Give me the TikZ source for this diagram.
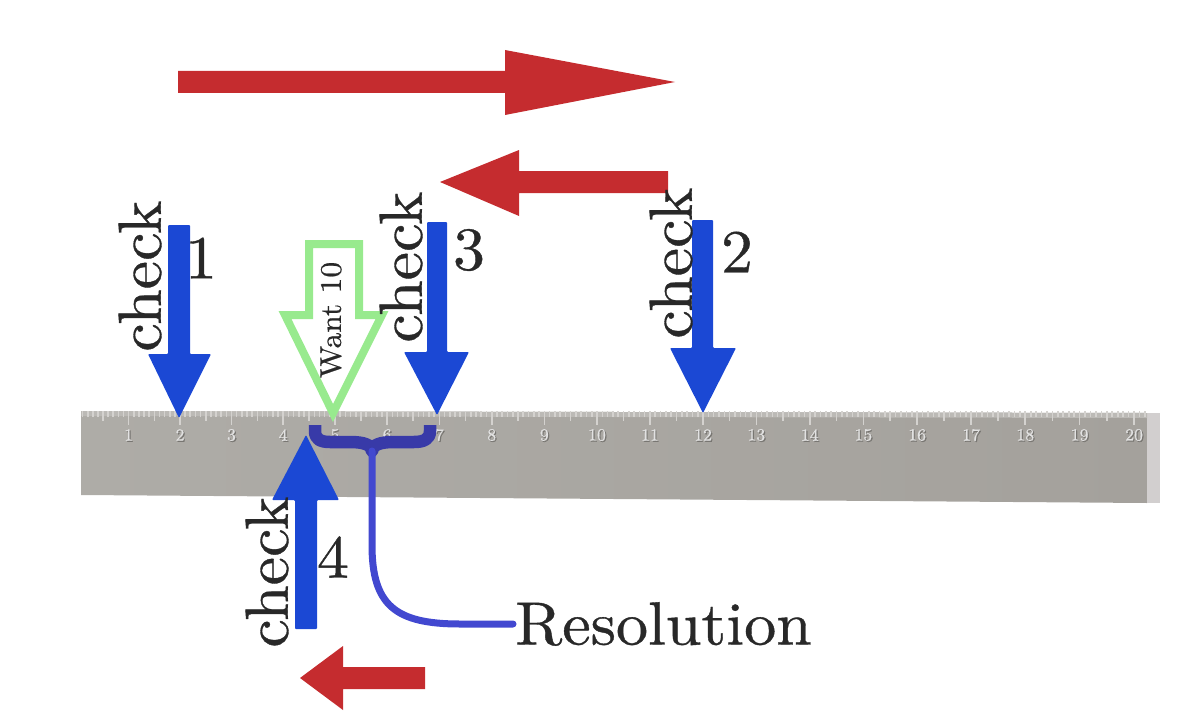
\documentclass[tikz,border=0pt]{standalone}
\usepackage{fontspec}
\newfontfamily\bigfont[FakeStretch=1.05,FakeBold=0.6]{lmroman10-regular.otf}
\definecolor{redA}{RGB}{197,44,47}
\definecolor{blueA}{RGB}{27,72,212}
\definecolor{braceC}{RGB}{56,58,168}
\definecolor{lineC}{RGB}{66,72,208}
\definecolor{greenA}{RGB}{152,234,142}
\definecolor{rulerC}{RGB}{164,161,156}
\definecolor{rulerL}{RGB}{174,172,167}
\definecolor{bandC}{RGB}{188,186,182}
\definecolor{capC}{RGB}{210,207,207}
\definecolor{tickC}{RGB}{212,210,207}
\definecolor{txtC}{RGB}{40,40,40}
\definecolor{digC}{RGB}{226,226,226}
\definecolor{digS}{RGB}{120,118,114}
\tikzset{
  redarrow/.style={fill=redA},
  bluearrow/.style={fill=blueA, rounded corners=1pt},
  bigtext/.style={font=\bigfont\fontsize{61}{70}\selectfont, text=txtC, inner sep=0pt},
  wanttext/.style={font=\bigfont\fontsize{30}{34}\selectfont, text=txtC, inner sep=0pt},
  digit/.style={font=\bigfont\fontsize{17}{18}\selectfont, inner sep=0pt},
}
\begin{document}
\begin{tikzpicture}[x=1pt,y=-1pt]
\useasboundingbox (0,0) rectangle (1200,725);
% ruler body
\shade[left color=rulerL, right color=rulerC] (81,411) -- (1147,413) -- (1147,503) -- (81,495) -- cycle;
\fill[capC] (1147,413) -- (1160,413) -- (1160,503) -- (1147,503) -- cycle;
\fill[bandC] (81,411) -- (1147,413) -- (1147,418) -- (81,416) -- cycle;
% ticks
\foreach \t in {1,...,202} {
  \pgfmathsetmacro{\d}{\t/10-2}
  \pgfmathsetmacro{\xx}{180+51.43*\d+0.0875*\d*\d}
  \pgfmathsetmacro{\len}{ifthenelse(mod(\t,10)==0,14,ifthenelse(mod(\t,5)==0,10,6))}
  \draw[tickC, line width=1.6pt] (\xx,411) -- (\xx,411+\len);
}
% digits
\foreach \n in {1,...,20} {
  \pgfmathsetmacro{\d}{\n-2}
  \pgfmathsetmacro{\xx}{180+51.43*\d+0.0875*\d*\d}
  \node[digit, text=digS] (ds\n) at (\xx+1.2,436.2) {\n};
  \node[digit, text=digC] (dl\n) at (\xx,435) {\n};
}
% red arrows
\fill[redarrow] (178,71) -- (505,71) -- (505,50) -- (675,82) -- (505,115) -- (505,93) -- (178,93) -- cycle;
\fill[redarrow] (668,171) -- (519,171) -- (519,150) -- (440,182) -- (519,216) -- (519,193) -- (668,193) -- cycle;
\fill[redarrow] (425,667) -- (343,667) -- (343,646) -- (300,678) -- (343,710) -- (343,689) -- (425,689) -- cycle;
% green "want" arrow
\draw[greenA, line width=8pt, fill=white, line join=miter]
  (309,244) -- (359,244) -- (359,315) -- (382,315) -- (333,413) -- (285,315) -- (309,315) -- cycle;
\node[wanttext, rotate=90] (want) at (331,320) {Want 10};
% blue check arrows
\fill[bluearrow] (168,225) -- (190,225) -- (190,354) -- (211,354) -- (179,418) -- (148,354) -- (168,354) -- cycle;
\fill[bluearrow] (427,222) -- (447,222) -- (447,352) -- (469,352) -- (437,415) -- (404,352) -- (427,352) -- cycle;
\fill[bluearrow] (692,220) -- (713,220) -- (713,348) -- (736,348) -- (703,413) -- (670,348) -- (692,348) -- cycle;
\fill[bluearrow] (295,629) -- (317,629) -- (317,500) -- (339,500) -- (306,435) -- (272,500) -- (295,500) -- cycle;
% labels
\node[bigtext, rotate=90] (c1) at (140,276) {check};
\node[bigtext] (n1) at (201,258) {1};
\node[bigtext, rotate=90] (c3) at (401,267) {check};
\node[bigtext] (n3) at (469,250) {3};
\node[bigtext, rotate=90] (c2) at (671,263) {check};
\node[bigtext] (n2) at (737,252) {2};
\node[bigtext, rotate=90] (c4) at (267,572) {check};
\node[bigtext] (n4) at (333,557) {4};
% brace
\draw[braceC, line width=12.5pt, line cap=butt, line join=round]
  (315,425) -- (315,431) .. controls (315,439) and (320,442) .. (330,442) -- (350,442)
  .. controls (364,442) and (372,445) .. (372,451)
  .. controls (372,445) and (380,442) .. (394,442) -- (414,442)
  .. controls (424,442) and (430,439) .. (430,431) -- (430,425);
\coordinate (bt) at (372,451);
% resolution
\node[bigtext, anchor=west] (res) at (515,624) {Resolution};
\draw[lineC, line width=7pt, line cap=round]
  (bt) -- (372,545) .. controls (372,605) and (395,624) .. (460,624) -- ([xshift=-2pt]res.west);
\end{tikzpicture}
\end{document}
